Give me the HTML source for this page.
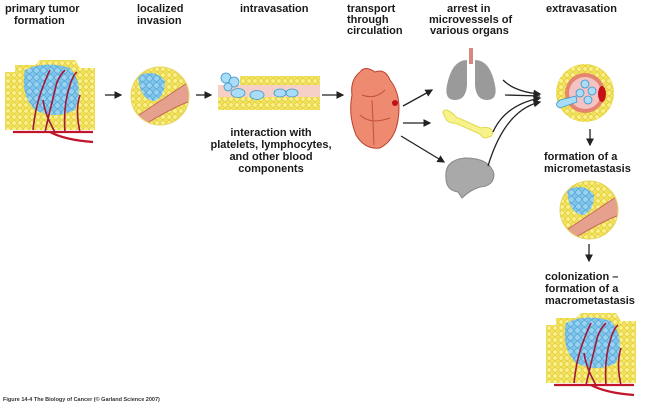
<!DOCTYPE html>
<html><head><meta charset="utf-8"><style>
html,body{margin:0;padding:0;background:#fff;}
svg{display:block;}
text{font-family:"Liberation Sans",sans-serif;font-weight:bold;fill:#1a1a1a;font-size:11px;}
</style></head><body>
<svg width="649" height="406" viewBox="0 0 649 406" xmlns="http://www.w3.org/2000/svg">
<defs>
<pattern id="cells" width="6" height="6" patternUnits="userSpaceOnUse">
<rect width="6" height="6" fill="#f3e35a"/><circle cx="3" cy="3" r="2.3" fill="#fbf08a" stroke="#d9c53a" stroke-width="0.6"/>
</pattern>
<pattern id="blue" width="7" height="7" patternUnits="userSpaceOnUse">
<rect width="7" height="7" fill="#7fc4ea"/><circle cx="3.5" cy="3.5" r="2.8" fill="#9ad3f2" stroke="#4a9fd0" stroke-width="0.6"/>
</pattern>
<marker id="ah" markerWidth="6" markerHeight="6" refX="5" refY="3" orient="auto"><path d="M0,0 L6,3 L0,6 z" fill="#222"/></marker>
<g id="tumor">
<path d="M0,12 L10,12 L10,5 L30,5 L35,0 L70,0 L75,8 L90,8 L90,70 L0,70 Z" fill="url(#cells)"/>
<path d="M20,10 Q40,0 65,8 Q80,25 70,50 Q50,60 30,50 Q15,35 20,10 Z" fill="url(#blue)"/>
<g fill="none" stroke="#a0183a" stroke-width="1.6">
<path d="M28,70 Q30,50 35,35 Q40,20 45,10"/>
<path d="M40,72 Q45,50 50,30 Q52,18 60,10"/>
<path d="M60,72 Q58,45 65,25 Q68,15 72,12"/>
<path d="M75,72 Q70,50 75,35"/>
<path d="M50,72 Q40,55 38,40"/>
</g>
<path d="M8,72 L88,72" stroke="#c0152a" stroke-width="2.2"/>
<path d="M45,72 Q60,80 88,82" stroke="#c0152a" stroke-width="2.2" fill="none"/>
</g>
<clipPath id="c1"><circle cx="0" cy="0" r="29"/></clipPath>
<g id="invasion">
<g clip-path="url(#c1)">
<rect x="-30" y="-30" width="60" height="60" fill="url(#cells)"/>
<path d="M-30,25 Q0,5 30,-15 L30,5 Q5,15 -25,35 Z" fill="#e6a08e" stroke="#c36a5a"/>
<path d="M-22,-20 Q-5,-28 5,-15 Q5,0 -5,5 Q-20,5 -22,-20 Z" fill="url(#blue)"/>
</g>
<circle r="29" fill="none" stroke="#e5d560" stroke-width="1"/>
</g>
</defs>

<text x="5" y="12">primary tumor</text>
<text x="14" y="24">formation</text>
<text x="137" y="12">localized</text>
<text x="137" y="24">invasion</text>
<text x="240" y="12">intravasation</text>
<text x="347" y="12">transport</text>
<text x="347" y="23">through</text>
<text x="347" y="34">circulation</text>
<text x="447" y="12">arrest in</text>
<text x="429" y="23">microvessels of</text>
<text x="430" y="34">various organs</text>
<text x="546" y="12">extravasation</text>

<use href="#tumor" x="5" y="60"/>
<line x1="105" y1="95" x2="121" y2="95" stroke="#222" stroke-width="1.3" marker-end="url(#ah)"/>
<use href="#invasion" x="160" y="96"/>
<line x1="196" y1="95" x2="211" y2="95" stroke="#222" stroke-width="1.3" marker-end="url(#ah)"/>

<rect x="218" y="96" width="102" height="14" fill="url(#cells)"/>
<rect x="240" y="76" width="80" height="10" fill="url(#cells)"/>
<rect x="218" y="85" width="102" height="12" fill="#f6cfc6"/>
<g fill="#a9dcf6" stroke="#3e95c8" stroke-width="0.8">
<circle cx="226" cy="78" r="5"/><circle cx="234" cy="82" r="5"/><circle cx="228" cy="87" r="4"/>
<ellipse cx="238" cy="93" rx="7" ry="4.5"/><ellipse cx="257" cy="95" rx="7" ry="4.5"/>
<ellipse cx="280" cy="93" rx="6" ry="4"/><ellipse cx="292" cy="93" rx="6" ry="4"/>
</g>
<text x="271" y="136" text-anchor="middle">interaction with</text>
<text x="271" y="148" text-anchor="middle">platelets, lymphocytes,</text>
<text x="271" y="160" text-anchor="middle">and other blood</text>
<text x="271" y="172" text-anchor="middle">components</text>
<line x1="322" y1="95" x2="343" y2="95" stroke="#222" stroke-width="1.3" marker-end="url(#ah)"/>

<path d="M360,72 Q365,65 375,72 Q385,68 390,80 Q402,95 398,120 Q395,140 380,148 Q365,150 356,135 Q348,115 352,95 Q350,80 360,72 Z" fill="#ee8a70" stroke="#b9402c" stroke-width="1"/>
<path d="M362,95 Q375,100 385,90 M360,115 Q370,125 390,118 M372,100 L374,145" stroke="#c4503a" fill="none"/>
<circle cx="395" cy="103" r="3" fill="#c0101a"/>

<line x1="403" y1="106" x2="432" y2="90" stroke="#222" stroke-width="1.3" marker-end="url(#ah)"/>
<line x1="403" y1="123" x2="430" y2="123" stroke="#222" stroke-width="1.3" marker-end="url(#ah)"/>
<line x1="401" y1="136" x2="444" y2="162" stroke="#222" stroke-width="1.3" marker-end="url(#ah)"/>

<path d="M467,60 Q452,60 447,85 Q444,100 455,100 Q466,100 467,85 Z" fill="#9a9a9a"/>
<path d="M475,60 Q490,60 495,85 Q498,100 487,100 Q476,100 475,85 Z" fill="#9a9a9a"/>
<rect x="469" y="48" width="4" height="16" fill="#d8877a"/>
<path d="M444,115 Q441,110 447,110 Q452,112 456,117 L481,128 Q488,126 492,130 Q494,137 488,137 Q484,140 480,134 L455,123 Q447,124 444,115 Z" fill="#f7f38a" stroke="#e0da50"/>
<path d="M446,178 Q444,160 465,158 Q490,158 494,174 Q494,186 480,187 Q470,190 462,198 L458,192 Q446,190 446,178 Z" fill="#a9a9a9" stroke="#888"/>

<g fill="none" stroke="#222" stroke-width="1.3">
<path d="M503,80 Q515,92 540,94" marker-end="url(#ah)"/>
<path d="M493,132 Q505,105 540,98" marker-end="url(#ah)"/>
<path d="M488,166 Q505,110 540,102" marker-end="url(#ah)"/>
<path d="M505,95 L540,96"/>
</g>

<circle cx="585" cy="93" r="29" fill="url(#cells)"/>
<circle cx="585" cy="93" r="20" fill="#e58570"/>
<circle cx="585" cy="93" r="16" fill="#f4c3c3"/>
<ellipse cx="602" cy="94" rx="4" ry="8" fill="#c8101a"/>
<g fill="#a9dcf6" stroke="#3e95c8" stroke-width="0.8">
<circle cx="585" cy="84" r="4"/><circle cx="580" cy="93" r="4"/><circle cx="588" cy="100" r="4"/><circle cx="592" cy="91" r="4"/>
<path d="M576,96 L560,100 Q553,105 560,108 L577,102 Z"/>
</g>
<line x1="590" y1="129" x2="590" y2="145" stroke="#222" stroke-width="1.3" marker-end="url(#ah)"/>
<text x="544" y="160">formation of a</text>
<text x="544" y="172">micrometastasis</text>
<use href="#invasion" x="589" y="210"/>
<line x1="589" y1="244" x2="589" y2="261" stroke="#222" stroke-width="1.3" marker-end="url(#ah)"/>
<text x="545" y="280">colonization –</text>
<text x="545" y="292">formation of a</text>
<text x="545" y="304">macrometastasis</text>
<use href="#tumor" x="546" y="313"/>

<text x="3" y="401" style="font-size:5.5px;font-weight:bold;fill:#333">Figure 14-4  The Biology of Cancer (© Garland Science 2007)</text>
</svg>
</body></html>
